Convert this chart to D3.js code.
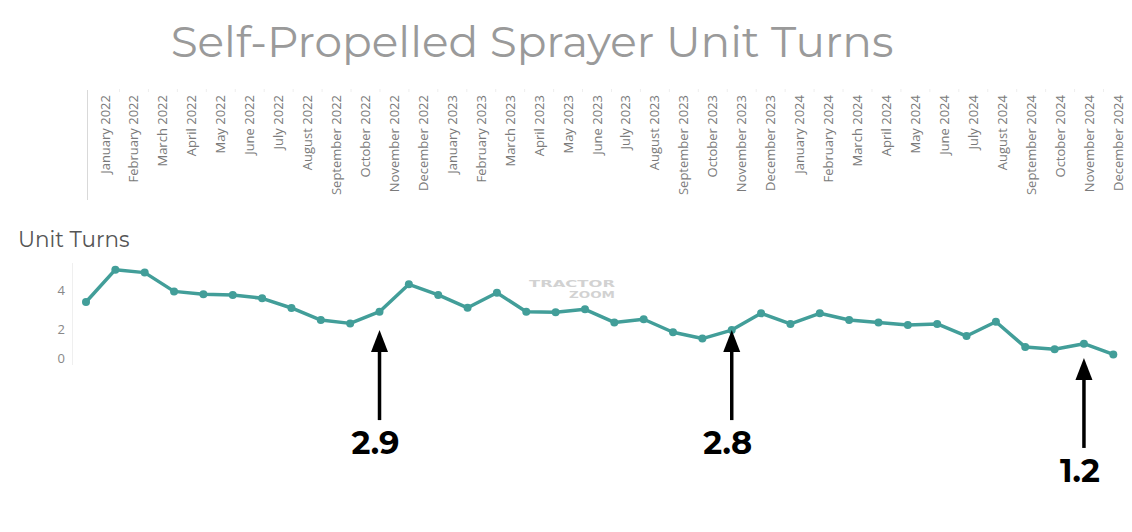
<!DOCTYPE html>
<html>
<head>
<meta charset="utf-8">
<script src="https://cdn.jsdelivr.net/npm/d3@7"></script>
<style>
  html, body { margin: 0; padding: 0; background: #fff; }
  svg { display: block; }
</style>
</head>
<body>
<svg id="chart" width="1132" height="532"></svg>
<script>
// ---- data ----
const title = "Self-Propelled Sprayer Unit Turns";
const yAxisTitle = "Unit Turns";
const months = [
  "January 2022","February 2022","March 2022","April 2022","May 2022","June 2022",
  "July 2022","August 2022","September 2022","October 2022","November 2022","December 2022",
  "January 2023","February 2023","March 2023","April 2023","May 2023","June 2023",
  "July 2023","August 2023","September 2023","October 2023","November 2023","December 2023",
  "January 2024","February 2024","March 2024","April 2024","May 2024","June 2024",
  "July 2024","August 2024","September 2024","October 2024","November 2024","December 2024"
];
const unitTurns = [
  3.39, 5.03, 4.88, 3.93, 3.78, 3.75, 3.58, 3.09, 2.48, 2.31, 2.90, 4.29,
  3.75, 3.10, 3.86, 2.90, 2.87, 3.02, 2.36, 2.52, 1.86, 1.54, 1.97, 2.82,
  2.28, 2.82, 2.48, 2.35, 2.23, 2.28, 1.67, 2.39, 1.11, 1.00, 1.28, 0.74
];
const yTicks = [0, 2, 4];
// annotations: month, label text, value where the arrow tip sits
const annotMonths = ["November 2022", "November 2023", "November 2024"];
const annotLabels = ["2.9", "2.8", "1.2"];
const annotTipValues = [1.97, 1.97, 0.56];

// ---- layout ----
const svg = d3.select("#chart");
const plotLeft = 86, plotRight = 1113.3;
const paneTop = 263, paneBottom = 365;

const x = d3.scalePoint().domain(months).range([plotLeft, plotRight]);
const y = d3.scaleLinear().domain([0, 4]).range([369, 290]);

const teal = "#429e99";
const titleFont = "Montserrat, 'Noto Sans', 'Open Sans', sans-serif";

// title
const t = svg.append("text")
  .attr("x", 532).attr("y", 57)
  .attr("text-anchor", "middle")
  .attr("fill", "#9a9a9a")
  .style("font-family", titleFont)
  .style("font-size", "41px")
  .text(title);
const tw = t.node().getComputedTextLength();
t.style("font-size", Math.min(44, 41 * 723 / tw) + "px");

// header with month labels
const hx = d3.scalePoint().domain(months).range([105, 1118]);
svg.append("line")
  .attr("x1", 87.5).attr("x2", 87.5).attr("y1", 90).attr("y2", 200)
  .attr("stroke", "#d9d9d9").attr("stroke-width", 1);
svg.append("g").selectAll("line.sep").data(months.slice(1)).join("line")
  .attr("x1", d => hx(d) - hx.step() / 2).attr("x2", d => hx(d) - hx.step() / 2)
  .attr("y1", 89).attr("y2", 92)
  .attr("stroke", "#eeeeee");
svg.append("g").selectAll("text").data(months).join("text")
  .attr("transform", d => `translate(${hx(d) + 4.5},95) rotate(-90)`)
  .attr("text-anchor", "end")
  .attr("fill", "#7a7a7a")
  .style("font-family", "'Open Sans', 'Noto Sans', sans-serif")
  .style("font-size", "13px")
  .text(d => d);

// y axis title
svg.append("text")
  .attr("x", 18).attr("y", 247)
  .attr("fill", "#555")
  .style("font-family", titleFont)
  .style("font-size", "21.5px")
  .text(yAxisTitle);

// y axis line
svg.append("line")
  .attr("x1", 72.5).attr("x2", 72.5).attr("y1", paneTop).attr("y2", paneBottom)
  .attr("stroke", "#efefef");
// y ticks
svg.append("g").selectAll("text").data(yTicks).join("text")
  .attr("x", 65)
  .attr("y", d => Math.min(y(d), paneBottom - 7))
  .attr("dy", "0.35em")
  .attr("text-anchor", "end")
  .attr("fill", "#888")
  .style("font-family", "'Open Sans', 'Noto Sans', sans-serif")
  .style("font-size", "13px")
  .text(d => d);

// watermark
const wm = svg.append("g").attr("fill", "#d2d2d2")
  .style("font-family", "'DejaVu Sans', sans-serif")
  .style("font-weight", "bold")
  .style("font-size", "9px");
wm.append("text").attr("x", 615).attr("y", 287).attr("text-anchor", "end")
  .attr("textLength", 86).attr("lengthAdjust", "spacingAndGlyphs").text("TRACTOR");
wm.append("text").attr("x", 615).attr("y", 298).attr("text-anchor", "end")
  .attr("textLength", 46).attr("lengthAdjust", "spacingAndGlyphs").text("ZOOM");

// line
const line = d3.line().x((d, i) => x(months[i])).y(d => y(d));
svg.append("path")
  .datum(unitTurns)
  .attr("d", line)
  .attr("fill", "none")
  .attr("stroke", teal)
  .attr("stroke-width", 3.5)
  .attr("stroke-linejoin", "round");
svg.append("g").selectAll("circle").data(unitTurns).join("circle")
  .attr("cx", (d, i) => x(months[i]))
  .attr("cy", d => y(d))
  .attr("r", 4)
  .attr("fill", teal);

// annotations
const ann = svg.append("g");
annotMonths.forEach((m, i) => {
  const ax = x(m);
  const tip = y(annotTipValues[i]);
  const headLen = 22, shaft = 90;
  ann.append("path")
    .attr("d", `M${ax},${tip} L${ax - 8.5},${tip + headLen} L${ax + 8.5},${tip + headLen} Z`)
    .attr("fill", "#000");
  ann.append("line")
    .attr("x1", ax).attr("x2", ax)
    .attr("y1", tip + headLen - 2).attr("y2", tip + shaft)
    .attr("stroke", "#000").attr("stroke-width", 3.5);
  ann.append("text")
    .attr("x", ax - 4).attr("y", tip + shaft + 34)
    .attr("text-anchor", "middle")
    .attr("fill", "#000")
    .style("font-family", titleFont)
    .style("font-weight", "bold")
    .style("font-size", "32px")
    .text(annotLabels[i]);
});
</script>
</body>
</html>
